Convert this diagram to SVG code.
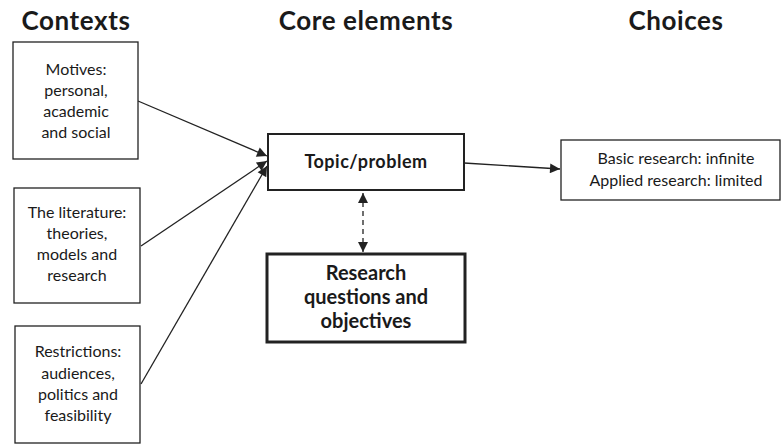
<svg xmlns="http://www.w3.org/2000/svg" width="784" height="444" viewBox="0 0 784 444">
<defs>
<style>
.title{font-family:Lato,"Open Sans","DejaVu Sans",sans-serif;font-weight:bold;font-size:26px;letter-spacing:0.6px;fill:#1a1a1a;text-anchor:middle}
.t{font-family:Lato,"Open Sans","DejaVu Sans",sans-serif;font-size:16px;fill:#1a1a1a;text-anchor:middle}
.b{font-family:Lato,"Open Sans","DejaVu Sans",sans-serif;font-weight:bold;font-size:18px;letter-spacing:0.5px;fill:#1a1a1a;text-anchor:middle}
.bb{font-family:Lato,"Open Sans","DejaVu Sans",sans-serif;font-weight:bold;font-size:20px;fill:#1a1a1a;text-anchor:middle}
.box{fill:#fff;stroke:#222;stroke-width:1.3}
.box2{fill:#fff;stroke:#222;stroke-width:2}
.box3{fill:#fff;stroke:#222;stroke-width:3}
.ln{stroke:#222;stroke-width:1.3;fill:none}
</style>
<marker id="ah" viewBox="0 0 10 10" refX="10" refY="5" markerWidth="12" markerHeight="10" markerUnits="userSpaceOnUse" orient="auto-start-reverse">
<path d="M0,0 L10,5 L0,10 Z" fill="#222"/>
</marker>
</defs>
<rect width="784" height="444" fill="#fff"/>
<text class="title" x="76" y="30">Contexts</text>
<text class="title" x="366" y="30">Core elements</text>
<text class="title" x="676" y="30">Choices</text>

<g id="connectors">
<line class="ln" x1="138" y1="101" x2="267" y2="156" marker-end="url(#ah)"/>
<line class="ln" x1="141" y1="246" x2="267" y2="161" marker-end="url(#ah)"/>
<line class="ln" x1="141" y1="384" x2="267" y2="166" marker-end="url(#ah)"/>
<line class="ln" x1="464" y1="163" x2="560" y2="169" marker-end="url(#ah)"/>
<line class="ln" x1="363" y1="193" x2="363" y2="252" stroke-dasharray="5,4" marker-start="url(#ah)" marker-end="url(#ah)"/>
</g>

<g id="motives">
<rect class="box" x="13" y="42" width="125" height="117"/>
<text class="t" x="76" y="75">Motives:</text>
<text class="t" x="76" y="96">personal,</text>
<text class="t" x="76" y="117">academic</text>
<text class="t" x="76" y="138">and social</text>
</g>
<g id="literature">
<rect class="box" x="14" y="188" width="126" height="115"/>
<text class="t" x="77" y="218">The literature:</text>
<text class="t" x="77" y="239">theories,</text>
<text class="t" x="77" y="260">models and</text>
<text class="t" x="77" y="281">research</text>
</g>
<g id="restrictions">
<rect class="box" x="15" y="326" width="125" height="117"/>
<text class="t" x="78" y="357">Restrictions:</text>
<text class="t" x="78" y="379">audiences,</text>
<text class="t" x="78" y="400">politics and</text>
<text class="t" x="78" y="421">feasibility</text>
</g>
<g id="topic">
<rect class="box2" x="268" y="134" width="196" height="56"/>
<text class="b" x="366" y="168">Topic/problem</text>
</g>
<g id="questions">
<rect class="box3" x="267" y="254" width="198" height="88"/>
<text class="bb" x="366" y="280">Research</text>
<text class="bb" x="366" y="304">questions and</text>
<text class="bb" x="366" y="328">objectives</text>
</g>
<g id="choices">
<rect class="box" x="561" y="140" width="219" height="60"/>
<text class="t" x="676" y="164">Basic research: infinite</text>
<text class="t" x="676" y="186">Applied research: limited</text>
</g>
</svg>
